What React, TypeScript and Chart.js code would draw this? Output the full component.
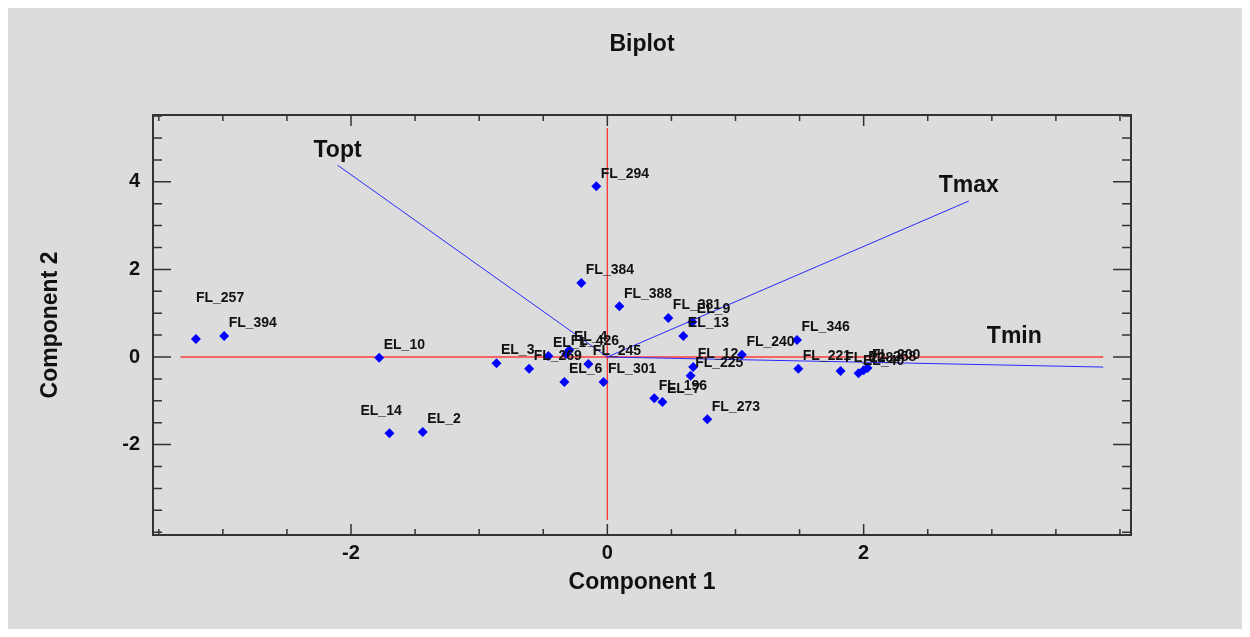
import React, { useEffect, useRef } from 'react';
import { Chart, registerables } from 'chart.js';

Chart.register(...registerables);

// ---------- data ----------
const POINT_LABELS = [
  'FL_294', 'FL_384', 'FL_388', 'FL_381', 'EL_9', 'EL_13', 'FL_346', 'FL_240',
  'FL_12', 'FL_225', 'FL_196', 'EL_7', 'FL_273', 'FL_301', 'EL_6', 'FL_245',
  'EL_3', 'FL_269', 'EL_1', 'EL_4', 'FL_426', 'FL_221', 'FL_228', 'EL_40',
  'FL_258', 'FL_200', 'FL_257', 'FL_394', 'EL_10', 'EL_14', 'EL_2',
];
const POINT_X = [
  -0.086, -0.203, 0.094, 0.476, 0.663, 0.593, 1.48, 1.05,
  0.67, 0.65, 0.366, 0.43, 0.78, -0.03, -0.335, -0.148,
  -0.865, -0.61, -0.46, -0.296, -0.32, 1.49, 1.82, 1.96,
  2.0, 2.03, -3.21, -2.99, -1.78, -1.70, -1.44,
];
const POINT_Y = [
  3.90, 1.69, 1.16, 0.89, 0.80, 0.48, 0.39, 0.05,
  -0.23, -0.43, -0.94, -1.03, -1.42, -0.57, -0.57, -0.16,
  -0.14, -0.27, 0.02, 0.16, 0.07, -0.27, -0.32, -0.37,
  -0.30, -0.25, 0.41, 0.48, -0.02, -1.74, -1.71,
];

const VECTOR_LABELS = ['Topt', 'Tmax', 'Tmin'];
const VECTOR_X = [-2.105, 2.82, 3.87];
const VECTOR_Y = [4.38, 3.56, -0.23];

const REF_LINE_X = [-3.33, 3.87];
const REF_LINE_Y = [-3.72, 5.23];

const X_RANGE = [-3.545, 4.086];
const Y_RANGE = [-4.064, 5.525];
const X_TICK_LABELS = [-2, 0, 2];
const Y_TICK_LABELS = [-2, 0, 2, 4];
const TICK_STEP = 0.5;

// ---------- styles ----------
const FONT = '"Liberation Sans", Arial, sans-serif';
const POINT_LABEL_OFFSET = { dx: 4.5, dy: -12.5 };
const POINT_LABEL_OVERRIDES: Record<string, { dx: number; dy: number }> = {
  FL_257: { dx: 0, dy: -41 },
  EL_14: { dx: -29, dy: -22.5 },
};
const VECTOR_LABEL_OFFSETS = [
  { dx: 0, dy: -14.5 },
  { dx: 0, dy: -15.5 },
  { dx: -89, dy: -30.5 },
];

const isLabelled = (v: number, list: number[]) => list.some((l) => Math.abs(l - v) < 1e-6);

const frameTicksPlugin = {
  id: 'frameTicks',
  afterDatasetsDraw(chart: any) {
    const { ctx, chartArea, scales } = chart;
    const { left, right, top, bottom } = chartArea;
    ctx.save();
    ctx.strokeStyle = '#333';
    ctx.lineWidth = 1.5;
    ctx.beginPath();
    scales.x.ticks.forEach((t: any) => {
      const px = scales.x.getPixelForValue(t.value);
      const len = isLabelled(t.value, X_TICK_LABELS) ? 11 : 6;
      ctx.moveTo(px, bottom);
      ctx.lineTo(px, bottom - len);
      ctx.moveTo(px, top);
      ctx.lineTo(px, top + len);
    });
    scales.y.ticks.forEach((t: any) => {
      const py = scales.y.getPixelForValue(t.value);
      const len = isLabelled(t.value, Y_TICK_LABELS) ? 18 : 9;
      ctx.moveTo(left, py);
      ctx.lineTo(left + len, py);
      ctx.moveTo(right, py);
      ctx.lineTo(right - len, py);
    });
    ctx.stroke();
    ctx.lineWidth = 2;
    ctx.strokeRect(left, top, right - left, bottom - top);
    ctx.restore();
  },
};

const labelsPlugin = {
  id: 'pointLabels',
  afterDatasetsDraw(chart: any) {
    const { ctx } = chart;
    ctx.save();
    ctx.fillStyle = '#111';
    ctx.textBaseline = 'middle';
    // point labels
    const meta = chart.getDatasetMeta(0);
    ctx.font = `bold 14px ${FONT}`;
    ctx.textAlign = 'left';
    meta.data.forEach((el: any, i: number) => {
      const name = POINT_LABELS[i];
      const off = POINT_LABEL_OVERRIDES[name] || POINT_LABEL_OFFSET;
      ctx.fillText(name, el.x + off.dx, el.y + off.dy);
    });
    // vector labels
    ctx.font = `bold 23px ${FONT}`;
    ctx.textAlign = 'center';
    VECTOR_LABELS.forEach((name, i) => {
      const m = chart.getDatasetMeta(3 + i);
      const end = m.data[1];
      const off = VECTOR_LABEL_OFFSETS[i];
      ctx.fillText(name, end.x + off.dx, end.y + off.dy);
    });
    ctx.restore();
  },
};

export default function App() {
  const ref = useRef<HTMLCanvasElement | null>(null);

  useEffect(() => {
    if (!ref.current) return;
    const points = POINT_X.map((x, i) => ({ x, y: POINT_Y[i] }));
    const vectorSets = VECTOR_LABELS.map((name, i) => ({
      type: 'scatter' as const,
      label: name,
      data: [{ x: 0, y: 0 }, { x: VECTOR_X[i], y: VECTOR_Y[i] }],
      showLine: true,
      borderColor: '#2a2aff',
      borderWidth: 1,
      pointRadius: 0,
      order: 2,
    }));
    const chart = new Chart(ref.current, {
      type: 'scatter',
      data: {
        datasets: [
          {
            label: 'Observations',
            data: points,
            pointStyle: 'rectRot',
            pointRadius: 5,
            backgroundColor: '#0000ff',
            borderColor: '#0000ff',
            borderWidth: 0,
            order: 0,
          },
          {
            label: 'h-axis',
            data: [{ x: REF_LINE_X[0], y: 0 }, { x: REF_LINE_X[1], y: 0 }],
            showLine: true,
            borderColor: 'rgb(255,60,60)',
            borderWidth: 1.6,
            pointRadius: 0,
            order: 3,
          },
          {
            label: 'v-axis',
            data: [{ x: 0, y: REF_LINE_Y[0] }, { x: 0, y: REF_LINE_Y[1] }],
            showLine: true,
            borderColor: 'rgb(255,60,60)',
            borderWidth: 1.4,
            pointRadius: 0,
            order: 3,
          },
          ...vectorSets,
        ] as any,
      },
      options: {
        animation: false,
        responsive: false,
        devicePixelRatio: 1,
        layout: { padding: { top: 0, left: 0, right: 111, bottom: 24 } },
        plugins: {
          legend: { display: false },
          tooltip: { enabled: false },
          title: {
            display: true,
            text: 'Biplot',
            fullSize: false,
            color: '#111',
            font: { family: FONT, size: 23, weight: 'bold' },
            padding: { top: 23.2, bottom: 56.2 },
          },
        },
        scales: {
          x: {
            type: 'linear',
            min: X_RANGE[0],
            max: X_RANGE[1],
            grid: { display: false, drawTicks: false },
            border: { display: false },
            ticks: {
              stepSize: TICK_STEP,
              includeBounds: false,
              autoSkip: false,
              maxRotation: 0,
              padding: 6,
              color: '#111',
              font: { family: FONT, size: 20, weight: 'bold' },
              callback: (v: any) => (isLabelled(Number(v), X_TICK_LABELS) ? String(v) : ''),
            },
            title: {
              display: true,
              text: 'Component 1',
              color: '#111',
              font: { family: FONT, size: 23, weight: 'bold' },
              padding: { top: 0, bottom: 8.2 },
            },
            afterFit: (s: any) => {
              s.height = 70;
            },
          },
          y: {
            type: 'linear',
            min: Y_RANGE[0],
            max: Y_RANGE[1],
            grid: { display: false, drawTicks: false },
            border: { display: false },
            ticks: {
              stepSize: TICK_STEP,
              includeBounds: false,
              autoSkip: false,
              padding: 13,
              color: '#111',
              font: { family: FONT, size: 20, weight: 'bold' },
              callback: (v: any) => (isLabelled(Number(v), Y_TICK_LABELS) ? String(v) : ''),
            },
            title: {
              display: true,
              text: 'Component 2',
              color: '#111',
              font: { family: FONT, size: 23, weight: 'bold' },
              padding: { top: 29, bottom: 0 },
            },
            afterFit: (s: any) => {
              s.width = 145;
            },
          },
        },
      } as any,
      plugins: [frameTicksPlugin, labelsPlugin],
    });
    return () => chart.destroy();
  }, []);

  return (
    <div style={{ width: 1234, height: 621, background: '#dcdcdc' }}>
      <canvas ref={ref} width={1234} height={621} style={{ display: 'block' }} />
    </div>
  );
}
